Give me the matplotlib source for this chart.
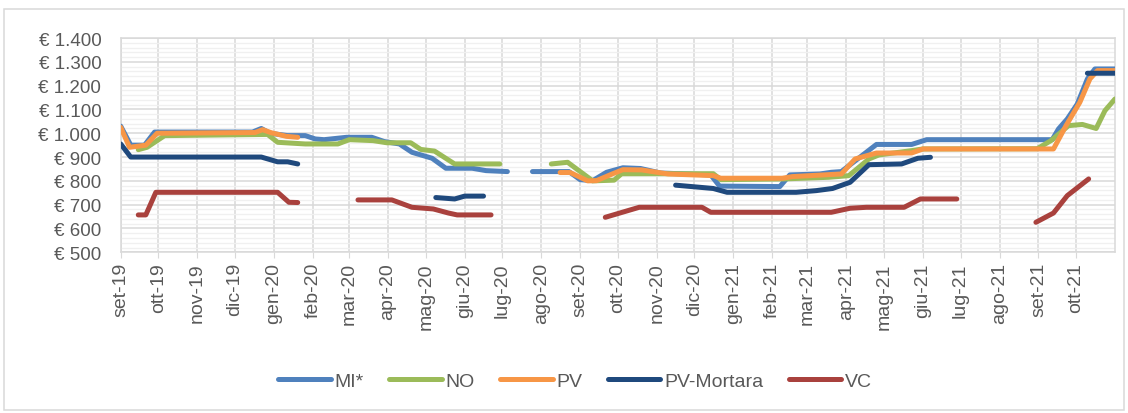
import matplotlib
matplotlib.use("Agg")
import matplotlib.pyplot as plt
import matplotlib.dates as mdates
from matplotlib.ticker import MultipleLocator, FuncFormatter
from matplotlib.patches import Rectangle
import numpy as np
import pandas as pd

# values, None = no quotation (gap in the line)
mi_dates = ["2019-09-01", "2019-09-09", "2019-09-20", "2019-09-28", "2019-12-15", "2019-12-22",
            "2019-12-29", "2020-01-12", "2020-01-26", "2020-02-03", "2020-02-10", "2020-02-28",
            "2020-03-19", "2020-03-29", "2020-04-10", "2020-04-20", "2020-05-06", "2020-05-17",
            "2020-06-07", "2020-06-18", "2020-07-05", "2020-07-15", "2020-07-25", "2020-08-23",
            "2020-09-01", "2020-09-11", "2020-09-22", "2020-10-05", "2020-10-19", "2020-11-04",
            "2020-12-14", "2020-12-21", "2021-02-07", "2021-02-15", "2021-03-11", "2021-03-20",
            "2021-03-28", "2021-04-10", "2021-04-25", "2021-05-23", "2021-06-04", "2021-09-12",
            "2021-09-17", "2021-09-24", "2021-10-02", "2021-10-10", "2021-10-16", "2021-11-01"]
mi_vals = [1030, 950, 950, 1005, 1005, 1020, 1000, 990, 990, 976,
           973, 983, 983, 965, 955, 920, 895, 853, 853, 843,
           839, None, 839, 839, 805, 801, 836, 855, 852, 833,
           825, 778, 776, 825, 829, 836, 839, 892, 953, 953,
           973, 973, 1018, 1060, 1123, 1228, 1270, 1270]

no_dates = ["2019-09-15", "2019-09-22", "2019-10-06", "2019-12-27", "2020-01-04", "2020-01-26",
            "2020-02-21", "2020-03-01", "2020-03-20", "2020-03-31", "2020-04-19", "2020-04-27",
            "2020-05-08", "2020-05-24", "2020-06-29", "2020-07-20", "2020-08-09", "2020-08-22",
            "2020-09-11", "2020-09-28", "2020-10-04", "2020-12-16", "2020-12-22", "2021-02-09",
            "2021-03-18", "2021-04-03", "2021-04-19", "2021-04-27", "2021-05-23", "2021-06-01",
            "2021-08-31", "2021-09-11", "2021-09-25", "2021-10-06", "2021-10-17", "2021-10-24",
            "2021-11-01"]
no_vals = [931, 941, 990, 995, 962, 955, 955, 973, 969, 960,
           960, 932, 925, 871, 871, None, 871, 878, 800, 803,
           830, 830, 805, 808, 815, 822, 892, 909, 927, 934,
           935, 969, 1032, 1037, 1020, 1095, 1144]

pv_dates = ["2019-09-01", "2019-09-08", "2019-09-21", "2019-09-30", "2019-12-17", "2019-12-23",
            "2019-12-30", "2020-01-11", "2020-01-20", "2020-05-01", "2020-08-16", "2020-08-24",
            "2020-09-07", "2020-09-14", "2020-09-27", "2020-10-05", "2020-10-20", "2020-11-10",
            "2020-12-16", "2020-12-22", "2021-02-09", "2021-02-17", "2021-03-28", "2021-04-08",
            "2021-04-25", "2021-05-23", "2021-06-01", "2021-09-13", "2021-09-23", "2021-10-04",
            "2021-10-12", "2021-10-18", "2021-11-01"]
pv_vals = [1025, 941, 950, 1000, 1003, 1015, 1002, 987, 983, None,
           835, 835, 800, 801, 830, 847, 846, 829, 822, 811,
           811, 818, 829, 892, 917, 917, 934, 934, 1032, 1130,
           1228, 1263, 1263]

pvm_dates = ["2019-09-01", "2019-09-09", "2019-12-22", "2020-01-04", "2020-01-12", "2020-01-20",
             "2020-03-15", "2020-05-09", "2020-05-24", "2020-06-01", "2020-06-16", "2020-09-01",
             "2020-11-16", "2020-12-16", "2020-12-27", "2021-02-20", "2021-03-08", "2021-03-21",
             "2021-04-04", "2021-04-19", "2021-05-15", "2021-05-28", "2021-06-07", "2021-08-01",
             "2021-10-10", "2021-11-01"]
pvm_vals = [955, 900, 900, 880, 880, 871, None, 730, 724, 736,
            736, None, 782, 768, 752, 752, 759, 768, 794, 868,
            871, 895, 899, None, 1252, 1252]

vc_dates = ["2019-09-15", "2019-09-21", "2019-09-29", "2020-01-04", "2020-01-13", "2020-01-20",
            "2020-02-15", "2020-03-08", "2020-04-04", "2020-04-20", "2020-05-07", "2020-05-19",
            "2020-05-26", "2020-06-22", "2020-08-01", "2020-09-21", "2020-10-18", "2020-12-07",
            "2020-12-14", "2021-03-20", "2021-04-04", "2021-04-17", "2021-05-17", "2021-05-30",
            "2021-06-28", "2021-07-30", "2021-08-30", "2021-09-13", "2021-09-24", "2021-10-11"]
vc_vals = [657, 657, 752, 752, 710, 709, None, 720, 720, 689,
           682, 665, 657, 657, None, 647, 689, 689, 668, 668,
           685, 689, 689, 724, 724, None, 626, 665, 738, 808]

month_labels = ["set-19", "ott-19", "nov-19", "dic-19", "gen-20", "feb-20", "mar-20", "apr-20",
                "mag-20", "giu-20", "lug-20", "ago-20", "set-20", "ott-20", "nov-20", "dic-20",
                "gen-21", "feb-21", "mar-21", "apr-21", "mag-21", "giu-21", "lug-21", "ago-21",
                "set-21", "ott-21"]

series = [
    ("MI*", mi_dates, mi_vals, "#4F81BD"),
    ("NO", no_dates, no_vals, "#9BBB59"),
    ("PV", pv_dates, pv_vals, "#F79646"),
    ("PV-Mortara", pvm_dates, pvm_vals, "#1F497D"),
    ("VC", vc_dates, vc_vals, "#A9413D"),
]

plt.rcParams['font.family'] = ['Liberation Sans', 'DejaVu Sans']
text_col = "#595959"
grid_col = "#D9D9D9"

fig = plt.figure(figsize=(11.28, 4.14), dpi=100)
ax = fig.add_axes([120.7 / 1128, 1 - 253.3 / 414, (1115 - 120.7) / 1128, (253.3 - 39) / 414])

# outer chart frame
fig.patches.append(Rectangle((4 / 1128, 3 / 414), 1120 / 1128, 401 / 414, transform=fig.transFigure,
                             fill=False, edgecolor=grid_col, linewidth=1.1))

for name, d, v, c in series:
    x = pd.to_datetime(d)
    y = np.array([np.nan if a is None else a for a in v], dtype=float)
    ax.plot(x, y, color=c, lw=3.6, label=name, solid_capstyle='round', solid_joinstyle='round', zorder=3)

ax.set_ylim(500, 1400)
ax.set_xlim(pd.Timestamp("2019-09-01"), pd.Timestamp("2021-11-01"))

ax.yaxis.set_major_locator(MultipleLocator(100))
ax.yaxis.set_minor_locator(MultipleLocator(20))
ax.yaxis.set_major_formatter(FuncFormatter(lambda v, p: "€ " + f"{int(v):,}".replace(",", ".")))

ticks = pd.date_range("2019-09-01", periods=len(month_labels), freq="MS")
ax.set_xticks(ticks)
ax.set_xticklabels(month_labels, rotation=90, va="top", ha="center")
ax.xaxis.set_minor_locator(mdates.MonthLocator())

ax.grid(which="major", axis="both", color=grid_col, lw=1.1, zorder=0)
ax.grid(which="minor", axis="y", color="#F0F0F0", lw=1.0, zorder=0)
ax.set_axisbelow(True)
for s in ax.spines.values():
    s.set_color(grid_col)
    s.set_linewidth(1.1)

ax.tick_params(axis="y", length=0, labelsize=13.5, labelcolor=text_col, pad=14)
ax.tick_params(axis="y", which="minor", length=0)
ax.tick_params(axis="x", which="major", length=4, color=grid_col, labelsize=14, labelcolor=text_col, pad=3)
ax.tick_params(axis="x", which="minor", length=0)

leg = fig.legend(loc="center", bbox_to_anchor=(0.51, 0.078), ncol=5, frameon=False,
                 fontsize=14, handlelength=2.7, handletextpad=0.2, columnspacing=1.3)
for t in leg.get_texts():
    t.set_color(text_col)
for h in leg.get_lines():
    h.set_linewidth(3.6)
    h.set_solid_capstyle('round')

fig.savefig("out.png", dpi=100)
